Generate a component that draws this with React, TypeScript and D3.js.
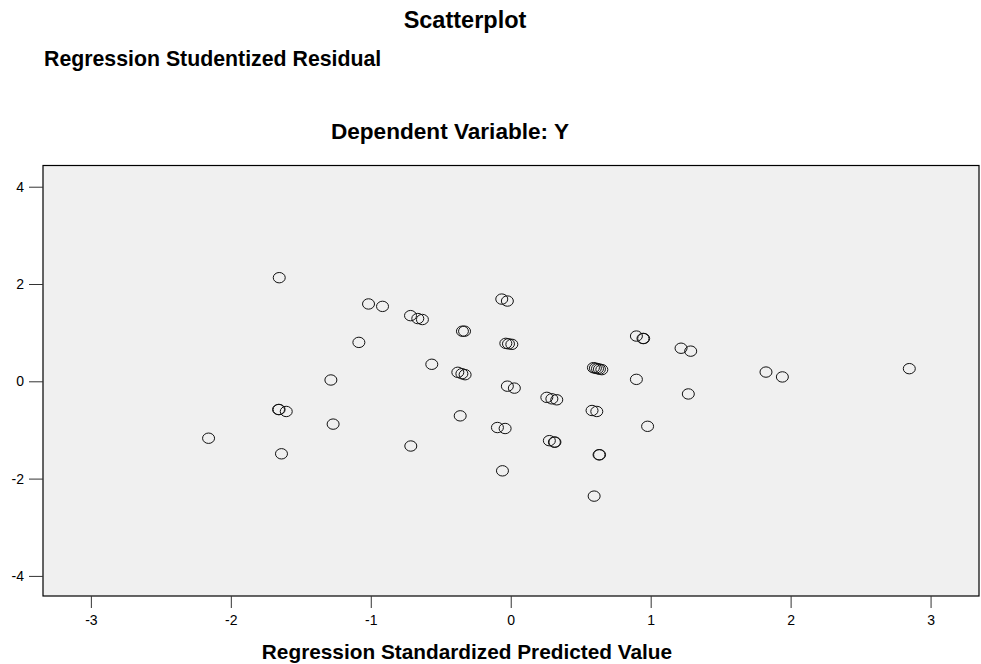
import React, { useEffect, useRef } from 'react';
import * as d3 from 'd3';

// Regression Standardized Predicted Value (x) and Studentized Residual (y)
const predicted = [
  -1.654, -1.016, -0.916, -0.716, -0.664, -0.631, -0.345, -0.330, -0.064, -0.024,
  -1.085, -0.035, -0.016, 0.008, -0.564, -0.378, -0.349, -0.326, -1.285, -0.024,
  0.026, 0.258, 0.294, 0.329, 0.591, 0.605, 0.620, 0.634, 0.651, 0.898,
  0.945, 0.950, 0.898, 0.581, 0.615, -0.361, -1.269, -0.095, -0.040, 0.276,
  0.312, 0.316, 0.978, -0.714, 0.631, 0.635, -0.059, -2.159, -1.659, -1.655,
  -1.604, -1.638, 0.596, 1.217, 1.286, 1.269, 1.824, 1.941, 2.848,
];
const residual = [
  2.13, 1.59, 1.54, 1.35, 1.29, 1.27, 1.03, 1.03, 1.69, 1.65,
  0.80, 0.78, 0.77, 0.76, 0.35, 0.185, 0.156, 0.136, 0.027, -0.10,
  -0.14, -0.33, -0.36, -0.38, 0.28, 0.27, 0.26, 0.25, 0.24, 0.93,
  0.88, 0.88, 0.04, -0.60, -0.62, -0.71, -0.88, -0.95, -0.97, -1.22,
  -1.25, -1.25, -0.925, -1.33, -1.51, -1.51, -1.84, -1.17, -0.58, -0.58,
  -0.62, -1.49, -2.36, 0.68, 0.62, -0.26, 0.19, 0.09, 0.26,
];
const xTicks = [-3, -2, -1, 0, 1, 2, 3];
const yTicks = [-4, -2, 0, 2, 4];

const W = 981;
const H = 664;
const plot = { left: 43, right: 979, top: 165.5, bottom: 596 };
const font = '"Liberation Sans", Arial, sans-serif';

export default function App() {
  const gRef = useRef<SVGGElement>(null);

  const x = d3.scaleLinear().domain([-3.342, 3.346]).range([plot.left, plot.right]);
  const y = d3.scaleLinear().domain([-4.413, 4.436]).range([plot.bottom, plot.top]);

  useEffect(() => {
    const g = d3.select(gRef.current);
    g.selectAll('*').remove();

    g.append('rect')
      .attr('x', plot.left)
      .attr('y', plot.top)
      .attr('width', plot.right - plot.left)
      .attr('height', plot.bottom - plot.top)
      .attr('fill', '#f0f0f0')
      .attr('stroke', '#000')
      .attr('stroke-width', 1.2);

    // plain hyphen for negatives, like SPSS
    const fmt = (d: d3.NumberValue) => String(d);

    const xAxis = g.append('g')
      .attr('transform', `translate(0,${plot.bottom})`)
      .call(d3.axisBottom(x).tickValues(xTicks).tickSize(12).tickPadding(7).tickFormat(fmt));
    xAxis.select('.domain').remove();

    const yAxis = g.append('g')
      .attr('transform', `translate(${plot.left},0)`)
      .call(d3.axisLeft(y).tickValues(yTicks).tickSize(14).tickPadding(5).tickFormat(fmt));
    yAxis.select('.domain').remove();

    g.selectAll('.tick line').attr('stroke', '#333');
    g.selectAll('.tick text')
      .attr('fill', '#000')
      .style('font-family', font)
      .style('font-size', '14px');

    g.append('g')
      .selectAll('ellipse')
      .data(predicted.map((p, i) => [p, residual[i]]))
      .join('ellipse')
      .attr('cx', d => x(d[0]))
      .attr('cy', d => y(d[1]))
      .attr('rx', 6)
      .attr('ry', 5.2)
      .attr('fill', 'none')
      .attr('stroke', '#111')
      .attr('stroke-width', 1);
  }, []);

  return (
    <svg width={W} height={H} style={{ position: 'absolute', left: 0, top: 0, background: '#fff' }}>
      <text x={465} y={28} textAnchor="middle" fontFamily={font} fontWeight="bold" fontSize={23.5}>Scatterplot</text>
      <text x={44} y={66} fontFamily={font} fontWeight="bold" fontSize={21.3}>Regression Studentized Residual</text>
      <text x={450} y={139} textAnchor="middle" fontFamily={font} fontWeight="bold" fontSize={22.6}>Dependent Variable: Y</text>
      <g ref={gRef} />
      <text x={467} y={659} textAnchor="middle" fontFamily={font} fontWeight="bold" fontSize={20.8}>Regression Standardized Predicted Value</text>
    </svg>
  );
}
